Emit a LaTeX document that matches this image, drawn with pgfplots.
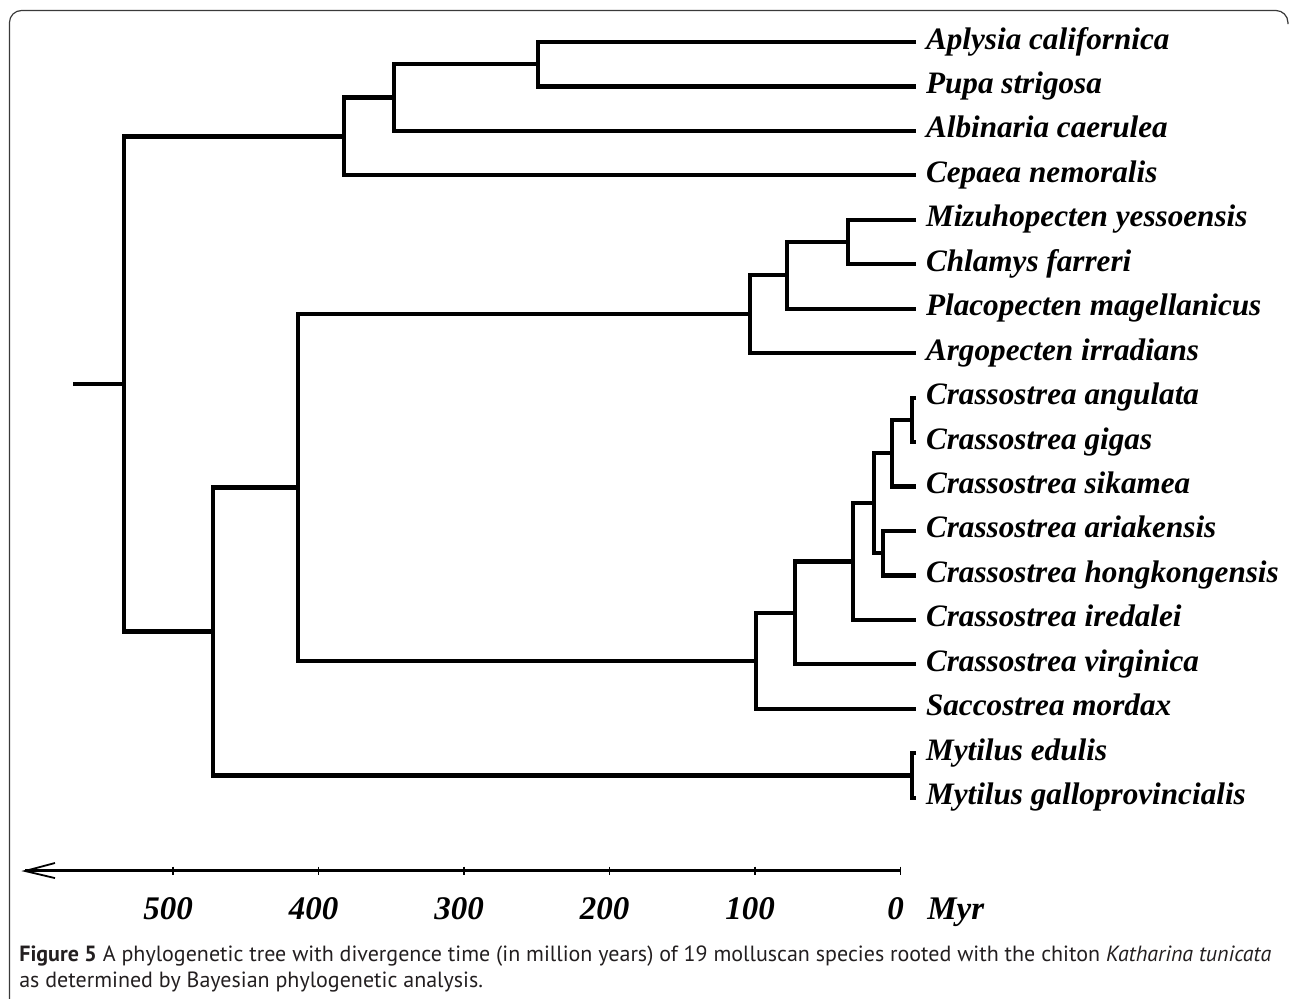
\documentclass[border=0pt]{standalone}
\usepackage{pgfplots}
\pgfplotsset{compat=1.18}
\usepackage{fontspec}
\setmainfont{Liberation Serif}
\newfontfamily\capfont{PT Sans}
\definecolor{captext}{HTML}{231F20}
\definecolor{framecol}{HTML}{3A3A3A}
\newcommand{\spfont}{\fontsize{15.6bp}{18bp}\selectfont\bfseries\itshape}
\newcommand{\tkfont}{\fontsize{16.5bp}{18bp}\selectfont\bfseries\itshape}
\tikzset{
  tree/.style={black, mark=none, line width=2.1bp, line join=miter},
  sp/.style={anchor=base west, inner sep=0pt, xshift=4.8bp, yshift=-3.5bp, font=\spfont},
  tk/.style={anchor=base, inner sep=0pt, xshift=-2.5bp, font=\tkfont},
}
\begin{document}
\begin{tikzpicture}
\path[use as bounding box] (0,0) rectangle (645bp,499.5bp);
\begin{axis}[
  at={(0,0)}, anchor=south west,
  width=645bp, height=499.5bp, scale only axis,
  hide axis, clip=false,
  x dir=reverse, xmin=-267.61, xmax=618.92,
  y dir=reverse, ymin=-0.9449, ymax=21.530,
]
% ---- gastropods
\addplot[tree] coordinates {(-10.6,0) (249.2,0) (249.2,1) (-10.6,1)};
\addplot[tree] coordinates {(249.2,0.5) (348.2,0.5) (348.2,2) (-10.6,2)};
\addplot[tree] coordinates {(348.2,1.25) (382.5,1.25) (382.5,3) (-10.6,3)};
% ---- pectinids
\addplot[tree] coordinates {(-10.6,4) (36.2,4) (36.2,5) (-10.6,5)};
\addplot[tree] coordinates {(36.2,4.5) (78.1,4.5) (78.1,6) (-10.6,6)};
\addplot[tree] coordinates {(78.1,5.25) (103.5,5.25) (103.5,7) (-10.6,7)};
% ---- ostreids
\addplot[tree] coordinates {(-10.6,8) (-7.8,8) (-7.8,9) (-10.6,9)};
\addplot[tree] coordinates {(-7.8,8.5) (6.1,8.5) (6.1,10) (-10.6,10)};
\addplot[tree] coordinates {(-10.6,11) (12.1,11) (12.1,12) (-10.6,12)};
\addplot[tree] coordinates {(6.1,9.25) (18.3,9.25) (18.3,11.5) (12.1,11.5)};
\addplot[tree] coordinates {(18.3,10.375) (32.8,10.375) (32.8,13) (-10.6,13)};
\addplot[tree] coordinates {(32.8,11.6875) (72.6,11.6875) (72.6,14) (-10.6,14)};
\addplot[tree] coordinates {(72.6,12.84375) (99.4,12.84375) (99.4,15) (-10.6,15)};
% ---- mytilids
\addplot[tree] coordinates {(-10.6,16) (-7.8,16) (-7.8,17) (-10.6,17)};
% ---- deep nodes
\addplot[tree] coordinates {(103.5,6.125) (414.1,6.125) (414.1,13.921875) (99.4,13.921875)};
\addplot[tree] coordinates {(414.1,10.0234) (472.5,10.0234) (472.5,16.5) (-7.8,16.5)};
\addplot[tree] coordinates {(382.5,2.125) (533.6,2.125) (533.6,13.2617) (472.5,13.2617)};
\addplot[tree] coordinates {(533.6,7.693) (568.8,7.693)};
% ---- species names
\node[sp] at (axis cs:-10.6,0) {Aplysia californica};
\node[sp] at (axis cs:-10.6,1) {Pupa strigosa};
\node[sp] at (axis cs:-10.6,2) {Albinaria caerulea};
\node[sp] at (axis cs:-10.6,3) {Cepaea nemoralis};
\node[sp] at (axis cs:-10.6,4) {Mizuhopecten yessoensis};
\node[sp] at (axis cs:-10.6,5) {Chlamys farreri};
\node[sp] at (axis cs:-10.6,6) {Placopecten magellanicus};
\node[sp] at (axis cs:-10.6,7) {Argopecten irradians};
\node[sp] at (axis cs:-10.6,8) {Crassostrea angulata};
\node[sp] at (axis cs:-10.6,9) {Crassostrea gigas};
\node[sp] at (axis cs:-10.6,10) {Crassostrea sikamea};
\node[sp] at (axis cs:-10.6,11) {Crassostrea ariakensis};
\node[sp] at (axis cs:-10.6,12) {Crassostrea hongkongensis};
\node[sp] at (axis cs:-10.6,13) {Crassostrea iredalei};
\node[sp] at (axis cs:-10.6,14) {Crassostrea virginica};
\node[sp] at (axis cs:-10.6,15) {Saccostrea mordax};
\node[sp] at (axis cs:-10.6,16) {Mytilus edulis};
\node[sp] at (axis cs:-10.6,17) {Mytilus galloprovincialis};
% ---- time scale
\addplot[black, mark=none, line width=1.5bp] coordinates {(601.7,18.65) (0,18.65)};
\addplot[black, mark=none, line width=0.9bp] coordinates {(581.1,18.47) (601.7,18.65) (581.1,18.81)};
\addplot[black, only marks, mark=|, mark size=2.2bp, mark options={line width=0.7bp}]
  coordinates {(0,18.65) (100,18.65) (200,18.65) (300,18.65) (400,18.65) (500,18.65)};
\node[tk] at (axis cs:500,19.73) {500};
\node[tk] at (axis cs:400,19.73) {400};
\node[tk] at (axis cs:300,19.73) {300};
\node[tk] at (axis cs:200,19.73) {200};
\node[tk] at (axis cs:100,19.73) {100};
\node[tk] at (axis cs:0,19.73) {0};
\node[anchor=base west, inner sep=0pt, font=\tkfont] at (axis cs:-18.1,19.73) {Myr};
% ---- frame (right and bottom edges fall outside the picture)
\draw[framecol, line width=0.6bp, rounded corners=6bp]
  (axis cs:612.4,21.6) -- (axis cs:612.4,-0.7087) -- (axis cs:-266.2,-0.7087) -- (axis cs:-266.2,-0.40);
% ---- caption
\node[anchor=base west, inner sep=0pt, text=captext, font=\capfont\fontsize{11bp}{13bp}\selectfont]
  at (axis cs:605.9,20.697) {\textbf{Figure 5} A phylogenetic tree with divergence time (in million years) of 19 molluscan species rooted with the chiton \textit{Katharina tunicata}};
\node[anchor=base west, inner sep=0pt, text=captext, font=\capfont\fontsize{11bp}{13bp}\selectfont]
  at (axis cs:605.9,21.26) {as determined by Bayesian phylogenetic analysis.};
\end{axis}
\end{tikzpicture}
\end{document}
